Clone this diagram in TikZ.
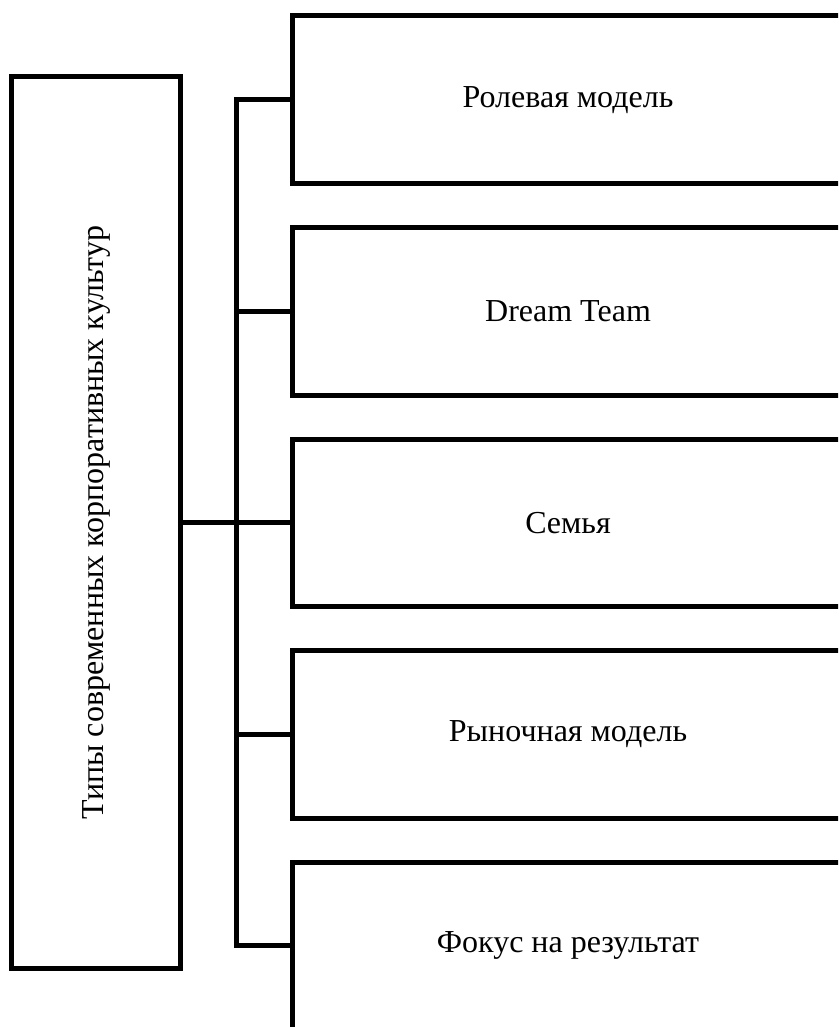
\documentclass[tikz,border=0pt]{standalone}
\usepackage{fontspec}
\setmainfont{Liberation Serif}
\begin{document}
\begin{tikzpicture}[x=1pt,y=-1pt,
  box/.style={draw=black, line width=5pt, rectangle, inner sep=0pt},
  rbox/.style={box, minimum width=551pt, minimum height=167.5pt},
  lbl/.style={font=\fontsize{32}{38}\selectfont, inner sep=0pt},
  conn/.style={draw=black, line width=5pt}]
\useasboundingbox (0,0) rectangle (838,1027);
\clip (0,0) rectangle (838,1027);
\fill[white] (0,0) rectangle (838,1027);
\node[box, minimum width=169pt, minimum height=891pt] (L) at (96,522.5) {};
\node[lbl, rotate=90] (Lt) at (L.center) {Типы современных корпоративных культур};
\node[rbox] (B1) at (568,99.75) {};
\node[rbox] (B2) at (568,311.25) {};
\node[rbox] (B3) at (568,522.75) {};
\node[rbox] (B4) at (568,734.25) {};
\node[rbox] (B5) at (568,945.75) {};
\node[lbl] (T1) at (B1.center) {Ролевая модель};
\node[lbl] (T2) at (B2.center) {Dream Team};
\node[lbl] (T3) at (B3.center) {Семья};
\node[lbl] (T4) at (B4.center) {Рыночная модель};
\node[lbl] (T5) at (B5.center) {Фокус на результат};
\coordinate (s1) at (236.5,99.75);
\coordinate (s2) at (236.5,311.25);
\coordinate (s3) at (236.5,522.75);
\coordinate (s4) at (236.5,734.25);
\coordinate (s5) at (236.5,945.75);
\draw[conn] (B1.west) -- (s1) -- (s5) -- (B5.west);
\draw[conn] (s2) -- (B2.west);
\draw[conn] (L.east |- s3) -- (B3.west);
\draw[conn] (s4) -- (B4.west);
\end{tikzpicture}
\end{document}
